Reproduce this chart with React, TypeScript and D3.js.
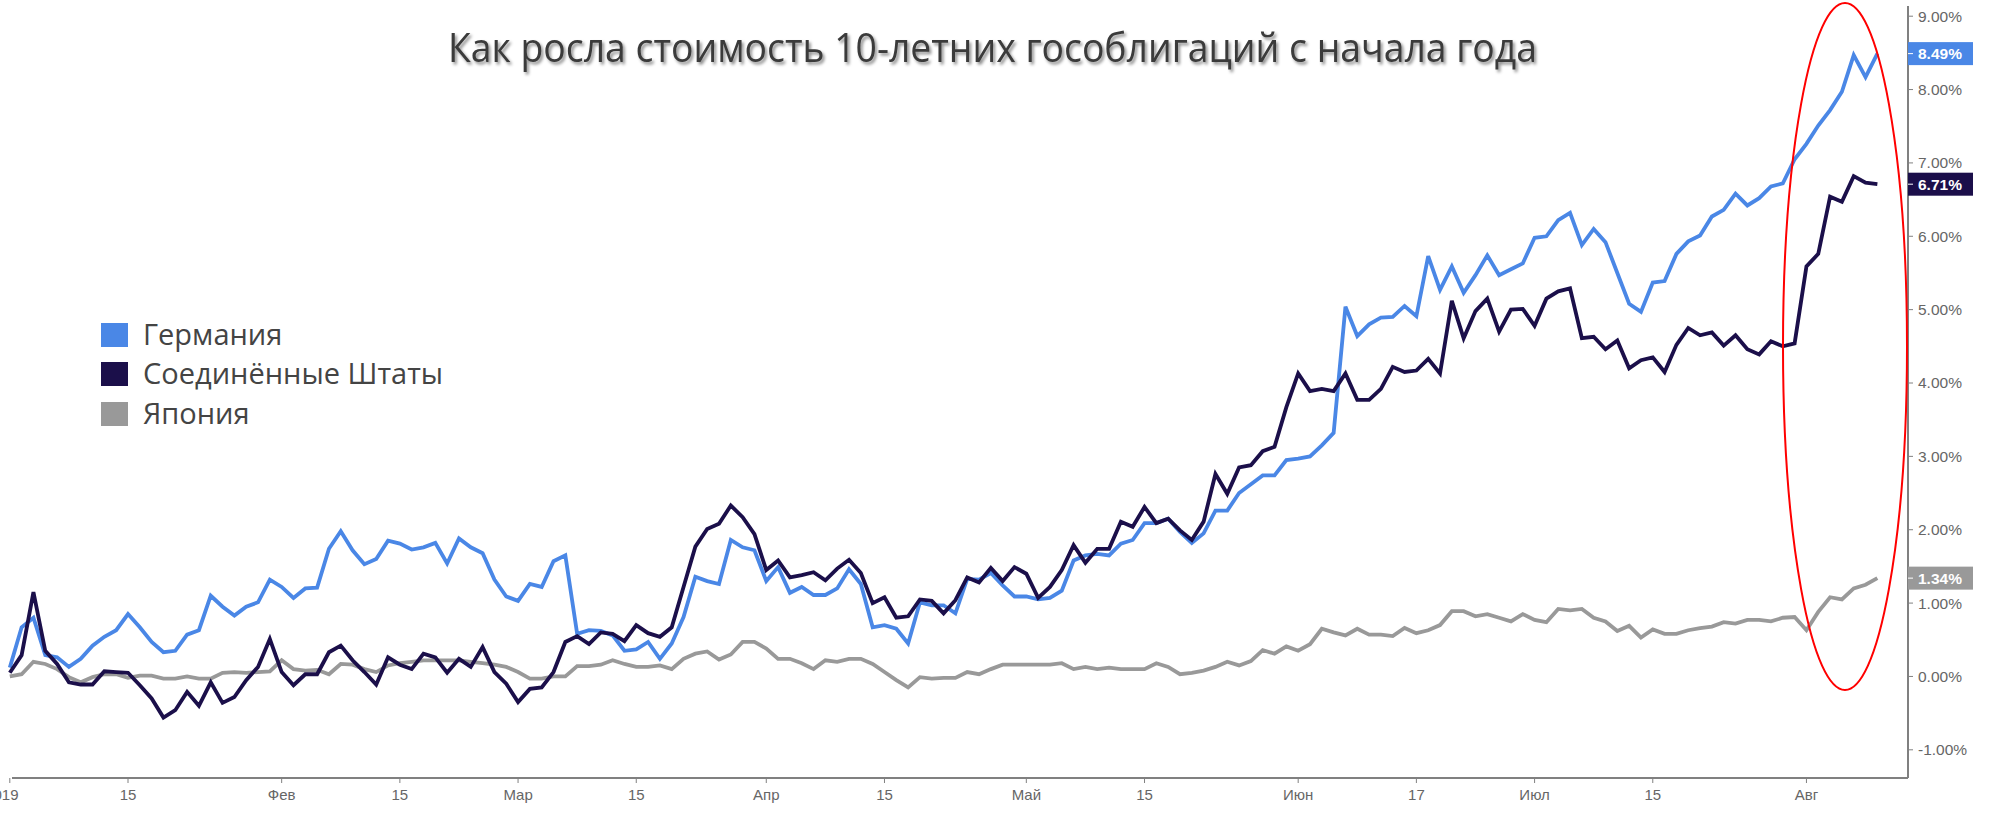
import { scaleLinear, line, timeDay, timeFormat } from 'd3';

// 10-year bond price change since start of year, % (one value per weekday, 2019-01-01 .. 2019-08-09)
const germany = [
  0.12, 0.67, 0.80, 0.29, 0.26, 0.13, 0.24, 0.42, 0.54, 0.63,
  0.85, 0.67, 0.47, 0.33, 0.35, 0.57, 0.63, 1.10, 0.95, 0.83,
  0.95, 1.01, 1.32, 1.22, 1.07, 1.20, 1.21, 1.74, 1.98, 1.72,
  1.53, 1.60, 1.85, 1.81, 1.73, 1.76, 1.82, 1.54, 1.88, 1.76,
  1.68, 1.32, 1.09, 1.03, 1.26, 1.22, 1.57, 1.65, 0.58, 0.63,
  0.62, 0.56, 0.35, 0.37, 0.47, 0.24, 0.45, 0.81, 1.36, 1.30,
  1.26, 1.86, 1.76, 1.72, 1.30, 1.49, 1.14, 1.22, 1.11, 1.11,
  1.20, 1.46, 1.26, 0.67, 0.70, 0.65, 0.45, 1.01, 0.97, 0.97,
  0.86, 1.33, 1.32, 1.41, 1.24, 1.09, 1.09, 1.05, 1.07, 1.17,
  1.58, 1.65, 1.67, 1.65, 1.81, 1.86, 2.09, 2.09, 2.15, 1.97,
  1.82, 1.95, 2.26, 2.26, 2.50, 2.62, 2.74, 2.74, 2.95, 2.97,
  3.00, 3.15, 3.32, 5.04, 4.64, 4.80, 4.89, 4.90, 5.05, 4.91,
  5.73, 5.27, 5.59, 5.23, 5.47, 5.74, 5.47, 5.55, 5.63, 5.98,
  6.00, 6.22, 6.32, 5.88, 6.10, 5.92, 5.50, 5.08, 4.97, 5.37,
  5.39, 5.76, 5.93, 6.01, 6.27, 6.36, 6.58, 6.42, 6.52, 6.68,
  6.72, 7.05, 7.26, 7.51, 7.72, 7.97, 8.47, 8.17, 8.49,
];

const usa = [
  0.05, 0.29, 1.15, 0.35, 0.17, -0.08, -0.11, -0.11, 0.07, 0.06,
  0.05, -0.12, -0.30, -0.56, -0.46, -0.21, -0.40, -0.08, -0.36, -0.28,
  -0.05, 0.13, 0.51, 0.06, -0.12, 0.03, 0.03, 0.33, 0.42, 0.22,
  0.06, -0.11, 0.26, 0.16, 0.10, 0.31, 0.26, 0.05, 0.24, 0.13,
  0.40, 0.06, -0.10, -0.35, -0.17, -0.15, 0.06, 0.47, 0.55, 0.44,
  0.60, 0.58, 0.48, 0.70, 0.59, 0.54, 0.67, 1.22, 1.77, 2.01,
  2.08, 2.33, 2.17, 1.94, 1.45, 1.58, 1.35, 1.38, 1.42, 1.31,
  1.47, 1.59, 1.41, 1.00, 1.08, 0.80, 0.82, 1.05, 1.03, 0.86,
  1.04, 1.35, 1.28, 1.48, 1.30, 1.49, 1.40, 1.07, 1.22, 1.45,
  1.79, 1.55, 1.74, 1.74, 2.11, 2.04, 2.31, 2.09, 2.15, 1.99,
  1.86, 2.11, 2.76, 2.49, 2.85, 2.88, 3.07, 3.13, 3.67, 4.13,
  3.89, 3.92, 3.89, 4.13, 3.77, 3.77, 3.92, 4.22, 4.15, 4.17,
  4.33, 4.13, 5.12, 4.61, 4.98, 5.15, 4.70, 5.00, 5.01, 4.78,
  5.15, 5.25, 5.29, 4.61, 4.63, 4.46, 4.58, 4.20, 4.31, 4.35,
  4.15, 4.52, 4.75, 4.65, 4.69, 4.51, 4.65, 4.46, 4.39, 4.57,
  4.50, 4.54, 5.59, 5.76, 6.54, 6.47, 6.82, 6.73, 6.71,
];

const japan = [
  0.00, 0.03, 0.20, 0.17, 0.10, -0.01, -0.08, -0.01, 0.03, 0.03,
  -0.02, 0.01, 0.01, -0.03, -0.03, 0.00, -0.03, -0.03, 0.05, 0.06,
  0.05, 0.06, 0.07, 0.22, 0.10, 0.08, 0.09, 0.03, 0.17, 0.16,
  0.10, 0.06, 0.15, 0.18, 0.20, 0.22, 0.22, 0.22, 0.22, 0.20,
  0.18, 0.16, 0.13, 0.06, -0.03, -0.03, 0.00, 0.00, 0.14, 0.14,
  0.16, 0.22, 0.17, 0.13, 0.13, 0.15, 0.10, 0.24, 0.31, 0.34,
  0.23, 0.30, 0.47, 0.47, 0.38, 0.24, 0.24, 0.18, 0.10, 0.22,
  0.20, 0.24, 0.24, 0.17, 0.06, -0.05, -0.15, -0.01, -0.03, -0.02,
  -0.02, 0.06, 0.03, 0.10, 0.16, 0.16, 0.16, 0.16, 0.16, 0.18,
  0.10, 0.13, 0.10, 0.12, 0.10, 0.10, 0.10, 0.18, 0.13, 0.03,
  0.05, 0.08, 0.13, 0.20, 0.15, 0.21, 0.36, 0.31, 0.41, 0.35,
  0.44, 0.65, 0.60, 0.56, 0.65, 0.57, 0.57, 0.55, 0.66, 0.59,
  0.63, 0.70, 0.89, 0.89, 0.82, 0.85, 0.80, 0.75, 0.85, 0.77,
  0.74, 0.92, 0.90, 0.92, 0.80, 0.75, 0.62, 0.69, 0.53, 0.64,
  0.58, 0.58, 0.63, 0.66, 0.68, 0.74, 0.72, 0.77, 0.77, 0.75,
  0.80, 0.81, 0.63, 0.88, 1.08, 1.05, 1.20, 1.25, 1.34,
];

const series = [
  { name: 'Германия', color: '#4a87e6', values: germany },
  { name: 'Соединённые Штаты', color: '#1b0f4a', values: usa },
  { name: 'Япония', color: '#999999', values: japan },
];

const xTicks = [
  { date: '2019-01-01', label: '2019' },
  { date: '2019-01-15', label: '15' },
  { date: '2019-02-01', label: 'Фев' },
  { date: '2019-02-15', label: '15' },
  { date: '2019-03-01', label: 'Мар' },
  { date: '2019-03-15', label: '15' },
  { date: '2019-04-01', label: 'Апр' },
  { date: '2019-04-15', label: '15' },
  { date: '2019-05-01', label: 'Май' },
  { date: '2019-05-15', label: '15' },
  { date: '2019-06-03', label: 'Июн' },
  { date: '2019-06-17', label: '17' },
  { date: '2019-07-01', label: 'Июл' },
  { date: '2019-07-15', label: '15' },
  { date: '2019-08-01', label: 'Авг' },
];

const yTicks = [-1, 0, 1, 2, 3, 4, 5, 6, 7, 8, 9];

const title = 'Как росла стоимость 10-летних гособлигаций с начала года';

const W = 1989;
const H = 816;
const axisX = 1908;
const axisY = 778;

const fmt = timeFormat('%Y-%m-%d');
// weekdays only (weekend gaps removed from the time axis)
const days = timeDay
  .range(new Date(2019, 0, 1), new Date(2019, 7, 10))
  .filter((d) => d.getDay() !== 0 && d.getDay() !== 6);
const dayIndex = new Map(days.map((d, i) => [fmt(d), i]));

export default function App() {
  const x = scaleLinear().domain([0, days.length - 1]).range([9.8, 9.8 + 11.82 * (days.length - 1)]);
  const y = scaleLinear().domain([-1, 9]).range([749.8, 16.2]);

  const path = line<number>()
    .x((_, i) => x(i))
    .y((d) => y(d));

  const drawOrder = [series[2], series[0], series[1]];
  const legendRows = [335, 374, 414];

  return (
    <div style={{ position: 'absolute', left: 0, top: 0 }}>
      <svg width={W} height={H} style={{ display: 'block', background: '#fff' }}>
        <defs>
          <filter id="shadow" x="-5%" y="-30%" width="110%" height="160%">
            <feDropShadow dx="2" dy="2.5" stdDeviation="1.6" floodColor="#000" floodOpacity="0.45" />
          </filter>
        </defs>

        {/* Title */}
        <text
          x={992.5}
          y={62}
          textAnchor="middle"
          fontFamily="'Open Sans', sans-serif"
          fontSize={40}
          fill="#3a3a3a"
          textLength={1089}
          lengthAdjust="spacingAndGlyphs"
          filter="url(#shadow)"
        >
          {title}
        </text>

        {/* Lines */}
        {drawOrder.map((s) => (
          <path
            key={s.name}
            d={path(s.values) || ''}
            fill="none"
            stroke={s.color}
            strokeWidth={3.8}
            strokeLinejoin="miter"
            strokeMiterlimit={3}
          />
        ))}

        {/* Bottom axis */}
        <line x1={12} x2={axisX} y1={axisY} y2={axisY} stroke="#808080" strokeWidth={2} />
        {xTicks.map((t, i) => {
          const xi = x(dayIndex.get(t.date) ?? 0);
          return (
            <g key={t.date} transform={`translate(${xi},${axisY})`}>
              <line y1={0} y2={5} stroke="#808080" strokeWidth={1} />
              <text
                y={22}
                dx={i === 0 ? -8 : 0}
                textAnchor="middle"
                fontFamily="'Liberation Sans', Arial, sans-serif"
                fontSize={15}
                fill="#666"
              >
                {t.label}
              </text>
            </g>
          );
        })}

        {/* Right axis */}
        <line x1={axisX} x2={axisX} y1={6} y2={axisY} stroke="#808080" strokeWidth={2} />
        {yTicks.map((v) => (
          <g key={v} transform={`translate(${axisX},${y(v)})`}>
            <line x1={0} x2={5} stroke="#808080" strokeWidth={1} />
            <text
              x={10}
              dy="0.35em"
              fontFamily="'Liberation Sans', Arial, sans-serif"
              fontSize={15.5}
              fill="#666"
            >
              {v.toFixed(2)}%
            </text>
          </g>
        ))}

        {/* Last value badges */}
        {series.map((s) => {
          const last = s.values[s.values.length - 1];
          return (
            <g key={s.name} transform={`translate(${axisX},${y(last)})`}>
              <rect x={0} y={-11.5} width={65} height={23} fill={s.color} />
              <line x1={0} x2={5} stroke="#fff" strokeWidth={1} />
              <text
                x={10}
                dy="0.36em"
                fontFamily="'Liberation Sans', Arial, sans-serif"
                fontSize={15.5}
                fontWeight="bold"
                fill="#fff"
              >
                {last.toFixed(2)}%
              </text>
            </g>
          );
        })}

        {/* Legend */}
        {series.map((s, i) => (
          <g key={s.name} transform={`translate(101,${legendRows[i]})`}>
            <rect x={0} y={-12} width={27} height={24} fill={s.color} />
            <text
              x={42}
              y={10}
              fontFamily="'Open Sans', sans-serif"
              fontSize={29}
              fill="#444"
            >
              {s.name}
            </text>
          </g>
        ))}

        {/* Highlight */}
        <ellipse cx={1845} cy={346.5} rx={62} ry={343.5} fill="none" stroke="#ff0000" strokeWidth={2} />
      </svg>
    </div>
  );
}
